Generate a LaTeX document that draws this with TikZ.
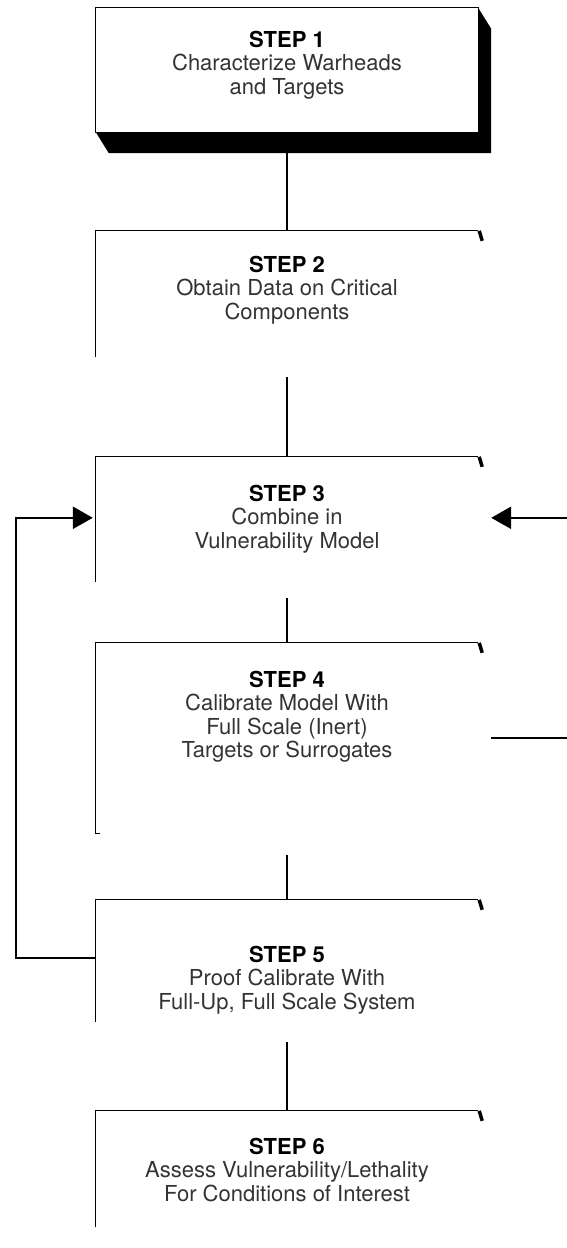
\documentclass[tikz,border=0pt]{standalone}
\usepackage{fontspec}
\setmainfont{TeX Gyre Heros}
\usetikzlibrary{arrows.meta,positioning}

\newcommand{\stepfont}{\fontsize{22}{23.5}\selectfont}

\begin{document}
\begin{tikzpicture}
	[
		x=1pt, y=-1pt,
		stepbox/.style={minimum width=382pt, inner sep=0pt, draw=none},
		steptext/.style={align=center, font=\stepfont, text=black!80},
		edge/.style={line width=1.3pt},
		link/.style={line width=1.8pt},
		loop/.style={line width=2.4pt, -{Triangle[length=20pt,width=22pt]}}
	]

	\useasboundingbox (0,0) rectangle (567,1248);

	\node (s1) at (287,70)     [stepbox, minimum height=124pt] {};
	\node (s2) at (287,304)    [stepbox, minimum height=146pt] {};
	\node (s3) at (287,527.5)  [stepbox, minimum height=141pt] {};
	\node (s4) at (287,749)    [stepbox, minimum height=212pt] {};
	\node (s5) at (287,971)    [stepbox, minimum height=142pt] {};
	\node (s6) at (287,1179.5) [stepbox, minimum height=137pt] {};

	\node (t1) at ([yshift=-57pt]s1.north) [steptext]
		{\textbf{\color{black}STEP 1}\\ Characterize Warheads\\ and Targets};
	\node (t2) at ([yshift=-59pt]s2.north) [steptext]
		{\textbf{\color{black}STEP 2}\\ Obtain Data on Critical\\ Components};
	\node (t3) at ([yshift=-62pt]s3.north) [steptext]
		{\textbf{\color{black}STEP 3}\\ Combine in\\ Vulnerability Model};
	\node (t4) at ([yshift=-74pt]s4.north) [steptext]
		{\textbf{\color{black}STEP 4}\\ Calibrate Model With\\ Full Scale (Inert)\\ Targets or Surrogates};
	\node (t5) at ([yshift=-80pt]s5.north) [steptext]
		{\textbf{\color{black}STEP 5}\\ Proof Calibrate With\\ Full-Up, Full Scale System};
	\node (t6) at ([yshift=-59pt]s6.north) [steptext]
		{\textbf{\color{black}STEP 6}\\ Assess Vulnerability/Lethality\\ For Conditions of Interest};

	% step 1 with its solid shadow
	\draw [edge] (s1.north west) rectangle (s1.south east);
	\fill (s1.south west) -- ([shift={(13,21)}]s1.south west)
		-- ([shift={(13,21)}]s1.south east)
		-- ([shift={(13,21)}]s1.north east)
		-- (s1.north east) -- (s1.south east) -- cycle;

	% the faded boxes: top, left side and a corner mark
	\draw [edge] (s2.south west) ++(0,-20) -- (s2.north west) -- (s2.north east);
	\draw [edge] (s3.south west) ++(0,-16) -- (s3.north west) -- (s3.north east);
	\draw [edge] (s4.south west) ++(4,-22) -- ++(-4,0) -- (s4.north west) -- (s4.north east);
	\draw [edge] (s5.south west) ++(0,-20) -- (s5.north west) -- (s5.north east);
	\draw [edge] (s6.south west) ++(0,-21) -- (s6.north west) -- (s6.north east);
	\foreach \s in {s2,s3,s4,s5,s6}
		\draw [line width=3.5pt] ([xshift=1pt]\s.north east) -- ++(3,10);

	% flow down the steps
	\draw [link] (s1.south) -- (s2.north);
	\draw [link] (s2.south) -- (s3.north);
	\draw [link] (s3.south) -- (s4.north);
	\draw [link] (s4.south) -- (s5.north);
	\draw [link] (s5.south) -- (s6.north);

	% feedback loops
	\draw [loop] ([yshift=-58pt]s5.north west) -- ++(-80,0)
		|- ([yshift=-61pt,xshift=-3pt]s3.north west);
	\draw [loop, shorten <=13pt] ([yshift=-95pt]s4.north east) -- ++(98,0)
		|- ([yshift=-61pt,xshift=13pt]s3.north east);
\end{tikzpicture}
\end{document}
